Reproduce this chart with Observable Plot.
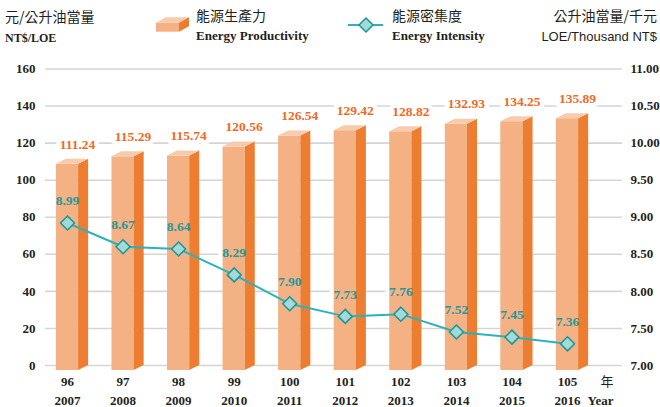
<!DOCTYPE html>
<html><head><meta charset="utf-8">
<script src="https://cdn.jsdelivr.net/npm/d3@7"></script>
<script src="https://cdn.jsdelivr.net/npm/@observablehq/plot@0.6"></script>
<style>
body{margin:0;background:#fff;}
#wrap{position:relative;width:660px;height:407px;overflow:hidden;}
#wrap svg{display:block;}
</style></head><body>
<div id="wrap"></div>
<script>
// ---- data ----
const years = ["96","97","98","99","100","101","102","103","104","105"];
const yearsAD = ["2007","2008","2009","2010","2011","2012","2013","2014","2015","2016"];
const productivity = [111.24,115.29,115.74,120.56,126.54,129.42,128.82,132.93,134.25,135.89];
const intensity = [8.99,8.67,8.64,8.29,7.90,7.73,7.76,7.52,7.45,7.36];
const leftTicks = [0,20,40,60,80,100,120,140,160];
const rightTicks = ["7.00","7.50","8.00","8.50","9.00","9.50","10.00","10.50","11.00"];
const yearUnit = ["年","Year"];
const leftUnit = ["元/公升油當量","NT$/LOE"];
const rightUnit = ["公升油當量/千元","LOE/Thousand NT$"];
const seriesNames = [["能源生產力","Energy Productivity"],["能源密集度","Energy Intensity"]];

const rightMin = 7, rightMax = 11, leftMax = 160;
const toLeft = w => (w - rightMin) * leftMax / (rightMax - rightMin);

// ---- style ----
const C = {front:"#F4B183", side:"#ED7D31", top:"#F8CBAD", grid:"#D5D5D5", text:"#231F20",
           orange:"#F26A1F", teal:"#2BB3BD", tealText:"#1E999F", dotFill:"#A3DAD6", dotStroke:"#17979D"};
const SERIF = "'Liberation Serif','Times New Roman',Tinos,'DejaVu Serif',serif";
const SANS = "'Liberation Sans',Arial,sans-serif";
const CJK = "'Noto Sans CJK TC','Noto Sans CJK SC',sans-serif";

// 3D geometry (in data units)
const HW = 0.2, DX = 0.18, DY = 2.7;

const idx = d3.range(years.length);
const bars = idx.map(i => ({i, v: productivity[i]}));
const side = bars.flatMap(b => [
  {i:b.i, x:b.i+HW, y1:-DY, y2:b.v-DY},
  {i:b.i, x:b.i+HW+DX, y1:0, y2:b.v}
]);
const topFace = bars.flatMap(b => [
  {i:b.i, x:b.i-HW, y1:b.v-DY, y2:b.v-DY},
  {i:b.i, x:b.i-HW+DX, y1:b.v-DY, y2:b.v},
  {i:b.i, x:b.i+HW, y1:b.v-DY, y2:b.v},
  {i:b.i, x:b.i+HW+DX, y1:b.v, y2:b.v}
]);
const pts = idx.map(i => ({x:i, y:toLeft(intensity[i]) - DY, w:intensity[i]}));

const diamond = {draw(ctx, size){ const h = Math.sqrt(size/Math.PI); ctx.moveTo(0,-h); ctx.lineTo(h,0); ctx.lineTo(0,h); ctx.lineTo(-h,0); ctx.closePath(); }};

const fmt = v => v.toFixed(2);
const lblFont = {fontFamily:SERIF, fontWeight:"bold", fontSize:13.5};

const chart = Plot.plot({
  width:660, height:407,
  marginLeft:45, marginRight:38, marginTop:68.5, marginBottom:42,
  x:{type:"linear", domain:[-0.396, 9.99], axis:null},
  y:{domain:[0,160], axis:null},
  marks:[
    Plot.ruleY(leftTicks, {y:d=>d, stroke:C.grid, strokeWidth:1.6}),
    Plot.text(leftTicks, {y:d=>d, text:d=>String(d), frameAnchor:"left", textAnchor:"end", dx:-10,
      fill:C.text, fontFamily:SERIF, fontWeight:"bold", fontSize:13}),
    Plot.text(leftTicks, {y:d=>d, text:(d,i)=>rightTicks[i], frameAnchor:"right", textAnchor:"start", dx:8,
      fill:C.text, fontFamily:SERIF, fontWeight:"bold", fontSize:13}),
    // halos behind labels
    Plot.text(bars, {x:d=>d.i+DX, y:d=>d.v, text:d=>fmt(d.v), dy:-15, fill:"white", stroke:"white", strokeWidth:9, ...lblFont}),
    Plot.text(pts, {x:"x", y:"y", text:d=>fmt(d.w), dy:-22, fill:"white", stroke:"white", strokeWidth:9, ...lblFont}),
    // bars
    Plot.rect(bars, {x1:d=>d.i-HW, x2:d=>d.i+HW, y1:()=>-DY, y2:d=>d.v-DY, fill:C.front}),
    Plot.areaY(side, {x:"x", y1:"y1", y2:"y2", z:"i", fill:C.side, curve:"linear"}),
    Plot.areaY(topFace, {x:"x", y1:"y1", y2:"y2", z:"i", fill:C.top, curve:"linear"}),
    // intensity line
    Plot.line(pts, {x:"x", y:"y", stroke:C.teal, strokeWidth:2}),
    Plot.dot(pts, {x:"x", y:"y", symbol:diamond, r:7, fill:C.dotFill, stroke:C.dotStroke, strokeWidth:1.5}),
    // labels
    Plot.text(bars, {x:d=>d.i+DX, y:d=>d.v, text:d=>fmt(d.v), dy:-15, fill:C.orange, ...lblFont}),
    Plot.text(pts, {x:"x", y:"y", text:d=>fmt(d.w), dy:-22, fill:C.tealText, ...lblFont}),
    // x labels
    Plot.text(idx, {x:d=>d, y:()=>0, text:i=>years[i], dy:16, fill:C.text, fontFamily:SERIF, fontWeight:"bold", fontSize:13}),
    Plot.text(idx, {x:d=>d, y:()=>0, text:i=>yearsAD[i], dy:35, fill:C.text, fontFamily:SERIF, fontWeight:"bold", fontSize:13}),
    Plot.text([yearUnit[0]], {y:()=>0, text:d=>d, frameAnchor:"right", dx:-9, dy:16, fill:C.text, fontFamily:CJK, fontSize:13}),
    Plot.text([yearUnit[1]], {y:()=>0, text:d=>d, frameAnchor:"right", dx:-9, dy:35, fill:C.text, fontFamily:SERIF, fontWeight:"bold", fontSize:13})
  ]
});
document.getElementById("wrap").appendChild(chart);

// ---- legend / unit header ----
const leg = d3.select("#wrap").append("svg").attr("width",660).attr("height",56)
  .style("position","absolute").style("left","0px").style("top","0px");
function txt(x, y, s, font, size, anchor="start", weight="normal"){
  leg.append("text").attr("x",x).attr("y",y).attr("text-anchor",anchor)
    .attr("font-family",font).attr("font-size",size).attr("font-weight",weight)
    .attr("fill",C.text).text(s);
}
txt(5, 22.3, leftUnit[0], CJK, 14);
txt(5, 42, leftUnit[1], SERIF, 12, "start", "bold");
// bar swatch
leg.append("rect").attr("x",156).attr("y",22.7).attr("width",23).attr("height",9).attr("fill",C.front);
leg.append("polygon").attr("points","156,22.7 179,22.7 189,17.3 166,17.3").attr("fill",C.top);
leg.append("polygon").attr("points","179,22.7 189,17.3 189,26.3 179,31.7").attr("fill",C.side);
txt(196, 20.7, seriesNames[0][0], CJK, 14);
txt(196, 39.5, seriesNames[0][1], SERIF, 13, "start", "bold");
// line swatch
leg.append("line").attr("x1",348).attr("x2",383).attr("y1",25).attr("y2",25).attr("stroke",C.teal).attr("stroke-width",2);
leg.append("polygon").attr("points","366,18 373,25 366,32 359,25").attr("fill",C.dotFill).attr("stroke",C.dotStroke).attr("stroke-width",1.5);
txt(392, 20.7, seriesNames[1][0], CJK, 14);
txt(392, 39.5, seriesNames[1][1], SERIF, 13, "start", "bold");
txt(657, 20.7, rightUnit[0], CJK, 14, "end");
txt(657, 41, rightUnit[1], SANS, 13, "end");
</script>
</body></html>
